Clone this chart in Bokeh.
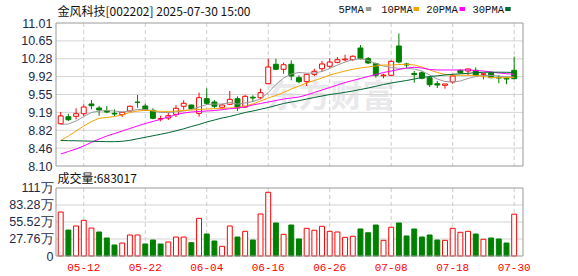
from bokeh.plotting import figure
from bokeh.models import Range1d
from bokeh.core.properties import value
from bokeh.embed import file_html
from bokeh.resources import INLINE

# ---------------- data ----------------
dates = ["05-07", "05-08", "05-09", "05-12", "05-13", "05-14", "05-15", "05-16", "05-19", "05-20",
         "05-21", "05-22", "05-23", "05-26", "05-27", "05-28", "05-29", "05-30",
         "06-03", "06-04", "06-05", "06-06", "06-09", "06-10", "06-11", "06-12", "06-13", "06-16",
         "06-17", "06-18", "06-19", "06-20", "06-23", "06-24", "06-25", "06-26", "06-27", "06-30",
         "07-01", "07-02", "07-03", "07-04", "07-07", "07-08", "07-09", "07-10", "07-11", "07-14",
         "07-15", "07-16", "07-17", "07-18", "07-21", "07-22", "07-23", "07-24", "07-25", "07-28",
         "07-29", "07-30"]
opens = [8.96, 9.103, 9.111, 9.164, 9.362, 9.28, 9.225, 9.172, 9.144, 9.219,
         9.40, 9.321, 9.233, 9.058, 9.077, 9.152, 9.315, 9.341, 9.172, 9.47,
         9.402, 9.295, 9.356, 9.47, 9.30, 9.50, 9.49, 9.775, 10.17, 10.068,
         10.17, 9.897, 9.816, 9.966, 10.08, 10.129, 10.21, 10.26, 10.263, 10.501,
         10.284, 10.182, 9.935, 9.946, 10.542, 10.176, 9.983, 9.999, 9.897, 9.775,
         9.742, 9.81, 10.047, 10.033, 10.047, 9.966, 9.999, 9.905, 9.885, 10.047]
highs = [9.20, 9.164, 9.274, 9.356, 9.443, 9.321, 9.32, 9.254, 9.20, 9.33,
         9.545, 9.368, 9.274, 9.124, 9.193, 9.335, 9.437, 9.35, 9.592, 9.68,
         9.443, 9.368, 9.626, 9.518, 9.545, 9.539, 9.673, 10.284, 10.284, 10.202,
         10.25, 9.945, 9.98, 10.08, 10.237, 10.292, 10.318, 10.365, 10.35, 10.562,
         10.318, 10.202, 9.978, 10.25, 10.797, 10.20, 10.033, 10.027, 9.931, 9.83,
         9.77, 9.978, 10.068, 10.08, 10.108, 9.993, 10.02, 9.946, 9.90, 10.324]
lows = [8.945, 9.016, 9.05, 9.117, 9.254, 9.124, 9.172, 9.117, 9.097, 9.21,
        9.286, 9.219, 9.05, 9.01, 9.036, 9.097, 9.246, 9.25, 9.103, 9.341,
        9.274, 9.26, 9.341, 9.219, 9.28, 9.402, 9.457, 9.763, 10.054, 9.978,
        9.844, 9.783, 9.728, 9.931, 10.013, 10.10, 10.19, 10.23, 10.24, 10.27,
        10.176, 9.897, 9.885, 9.93, 10.19, 10.095, 9.795, 9.864, 9.708, 9.687,
        9.673, 9.775, 9.978, 9.952, 9.931, 9.864, 9.885, 9.783, 9.763, 9.864]
closes = [9.12, 9.042, 9.164, 9.30, 9.327, 9.24, 9.199, 9.158, 9.193, 9.315,
          9.395, 9.233, 9.07, 9.065, 9.124, 9.274, 9.376, 9.266, 9.49, 9.376,
          9.315, 9.341, 9.457, 9.28, 9.518, 9.484, 9.592, 10.115, 10.068, 10.161,
          9.931, 9.816, 9.966, 10.027, 10.176, 10.216, 10.263, 10.275, 10.333, 10.284,
          10.196, 9.946, 9.95, 10.23, 10.216, 10.155, 9.962, 9.885, 9.754, 9.748,
          9.769, 9.931, 9.999, 10.074, 9.946, 9.976, 9.897, 9.89, 9.87, 9.877]
ma5 = [8.945, 8.955, 9.016, 9.107, 9.189, 9.219, 9.229, 9.219, 9.199, 9.219,
       9.25, 9.25, 9.219, 9.189, 9.189, 9.199, 9.219, 9.25, 9.30, 9.35,
       9.36, 9.36, 9.392, 9.36, 9.382, 9.412, 9.463, 9.596, 9.758, 9.891,
       9.972, 10.003, 9.989, 9.993, 10.023, 10.084, 10.155, 10.216, 10.263, 10.283,
       10.247, 10.186, 10.135, 10.104, 10.088, 10.084, 10.074, 10.033, 9.952, 9.87,
       9.82, 9.809, 9.83, 9.88, 9.921, 9.942, 9.942, 9.931, 9.917, 9.907]
ma10 = [8.619, 8.71, 8.812, 8.914, 9.006, 9.071, 9.087, 9.107, 9.138, 9.189,
        9.219, 9.233, 9.225, 9.213, 9.209, 9.219, 9.229, 9.24, 9.25, 9.26,
        9.266, 9.274, 9.28, 9.29, 9.321, 9.362, 9.423, 9.484, 9.535, 9.596,
        9.667, 9.728, 9.789, 9.84, 9.891, 9.952, 9.993, 10.033, 10.068, 10.094,
        10.115, 10.135, 10.155, 10.155, 10.165, 10.169, 10.155, 10.115, 10.054, 10.003,
        9.962, 9.946, 9.946, 9.946, 9.942, 9.921, 9.901, 9.897, 9.897, 9.905]
ma20 = [8.344, 8.395, 8.446, 8.507, 8.582, 8.649, 8.71, 8.761, 8.812, 8.863,
        8.914, 8.965, 9.006, 9.05, 9.097, 9.144, 9.178, 9.199, 9.209, 9.219,
        9.229, 9.246, 9.266, 9.28, 9.30, 9.341, 9.372, 9.402, 9.433, 9.463,
        9.484, 9.504, 9.545, 9.596, 9.647, 9.697, 9.748, 9.799, 9.84, 9.88,
        9.921, 9.962, 10.003, 10.033, 10.064, 10.094, 10.109, 10.094, 10.064, 10.054,
        10.054, 10.054, 10.054, 10.054, 10.043, 10.033, 10.013, 9.993, 9.978, 9.966]
ma30 = [8.619, 8.615, 8.613, 8.609, 8.605, 8.599, 8.595, 8.595, 8.603, 8.623,
        8.654, 8.684, 8.715, 8.745, 8.778, 8.816, 8.857, 8.904, 8.945, 8.995,
        9.036, 9.077, 9.107, 9.148, 9.189, 9.219, 9.254, 9.29, 9.331, 9.372,
        9.402, 9.429, 9.463, 9.494, 9.524, 9.555, 9.575, 9.60, 9.626, 9.657,
        9.687, 9.722, 9.758, 9.789, 9.815, 9.84, 9.87, 9.901, 9.921, 9.935,
        9.952, 9.966, 9.976, 9.986, 9.999, 10.007, 10.009, 10.009, 10.007, 10.003]
volumes = [718000, 424000, 490000, 583000, 457000, 392000, 294000, 180000, 212000, 343000,
           343000, 196000, 261000, 196000, 229000, 310000, 310000, 218000, 615000, 359000,
           245000, 158000, 490000, 310000, 403000, 261000, 686000, 1040000, 539000, 354000,
           506000, 278000, 452000, 420000, 485000, 403000, 392000, 305000, 322000, 441000,
           380000, 506000, 256000, 469000, 539000, 327000, 441000, 310000, 343000, 261000,
           256000, 452000, 387000, 403000, 359000, 273000, 294000, 278000, 212000, 683017]
vol_up = [1, 0, 1, 1, 1, 0, 0, 0, 1, 1, 1, 0, 0, 0, 1, 1, 1, 0, 1, 0,
          0, 1, 1, 0, 1, 0, 1, 1, 0, 1, 0, 0, 1, 1, 1, 1, 1, 1, 1, 0,
          0, 0, 1, 1, 0, 0, 0, 0, 0, 0, 1, 1, 1, 1, 0, 1, 0, 0, 0, 1]

price_ticks = [8.10, 8.464, 8.8275, 9.191, 9.555, 9.919, 10.2825, 10.646, 11.01]
price_tick_labels = ["8.10", "8.46", "8.82", "9.19", "9.55", "9.92", "10.28", "10.65", "11.01"]
vol_ticks = [0, 277600, 555200, 832800, 1110400]
vol_tick_labels = ["0", "27.76万", "55.52万", "83.28万", "111万"]
date_ticks = ["05-12", "05-22", "06-04", "06-16", "06-26", "07-08", "07-18", "07-30"]
title_text = "金风科技[002202] 2025-07-30 15:00"
volume_title = "成交量:683017"
ma_names = ["5PMA", "10PMA", "20PMA", "30PMA"]
watermark = "东方财富"

# ---------------- layout / style ----------------
W, H = 578, 276
X0_PX, DX_PX = 60.2, 7.686          # pixel x of first candle, pixels per trading day
P_TOP_PX, P_BOT_PX = 22.5, 165.5    # price panel
V_TOP_PX, V_BOT_PX = 187.5, 255.5   # volume panel
PANEL_L, PANEL_R = 55.5, 522.5
RED, GREEN = "#ff0000", "#008000"
MA_COLORS = ["#999999", "#f5a300", "#ff00ff", "#006633"]
LABEL_COLOR = "#1e2a48"
BODY_W = 0.64

p_top, p_bot = price_ticks[-1], price_ticks[0]
ps = (P_BOT_PX - P_TOP_PX) / (p_top - p_bot)
vs = (V_BOT_PX - V_TOP_PX) / vol_ticks[-1]

p = figure(width=W, height=H, output_backend="svg", toolbar_location=None,
           x_range=Range1d(-X0_PX / DX_PX, (W - X0_PX) / DX_PX),
           y_range=Range1d(p_bot - (H - P_BOT_PX) / ps, p_top + P_TOP_PX / ps),
           x_axis_location=None, y_axis_location=None, min_border=0,
           outline_line_color=None, background_fill_color="white",
           border_fill_color="white", title=None)
p.extra_x_ranges = {"px": Range1d(0, W)}
p.extra_y_ranges = {"px": Range1d(H, 0),
                    "vol": Range1d(-(H - V_BOT_PX) / vs, V_BOT_PX / vs)}
p.grid.visible = False

idx = list(range(len(dates)))
tick_idx = [dates.index(d) for d in date_ticks]

# watermark
p.text(x=[266], y=[92], text=[watermark], x_range_name="px", y_range_name="px",
       text_font=value("Noto Sans CJK SC"), text_font_style="bold", text_font_size="32px",
       text_color="#e9e9ec", text_baseline="middle", text_align="left")

# horizontal grid lines
inner_p = price_ticks[1:-1]
p.segment(x0=[PANEL_L] * len(inner_p), x1=[PANEL_R] * len(inner_p), y0=inner_p, y1=inner_p,
          x_range_name="px", line_color="#d4d4d4", line_width=1)
inner_v = vol_ticks[1:-1]
p.segment(x0=[PANEL_L] * len(inner_v), x1=[PANEL_R] * len(inner_v), y0=inner_v, y1=inner_v,
          x_range_name="px", y_range_name="vol", line_color="#d4d4d4", line_width=1)
# vertical dashed lines
for top, bot in [(P_TOP_PX, P_BOT_PX), (V_TOP_PX, V_BOT_PX)]:
    p.segment(x0=tick_idx, x1=tick_idx, y0=[top] * len(tick_idx), y1=[bot] * len(tick_idx),
              y_range_name="px", line_color="#cccccc", line_dash="4 3", line_width=1)

# candles
up = [c >= o for o, c in zip(opens, closes)]
ccol = [RED if u else GREEN for u in up]
cfill = ["white" if u else GREEN for u in up]
p.segment(x0=idx, x1=idx, y0=lows, y1=highs, line_color=ccol, line_width=1)
p.vbar(x=idx, width=BODY_W, top=[max(o, c) for o, c in zip(opens, closes)],
       bottom=[min(o, c) for o, c in zip(opens, closes)],
       fill_color=cfill, line_color=ccol, line_width=1)

# moving averages
for ma, col in zip([ma5, ma10, ma20, ma30], MA_COLORS):
    p.line(x=idx, y=ma, line_color=col, line_width=1)

# volume bars
vcol = [RED if u else GREEN for u in vol_up]
vfill = ["white" if u else GREEN for u in vol_up]
p.vbar(x=idx, width=BODY_W, top=volumes, bottom=[0] * len(volumes), y_range_name="vol",
       fill_color=vfill, line_color=vcol, line_width=1)

# panel borders
p.quad(left=[PANEL_L] * 2, right=[PANEL_R] * 2, top=[P_TOP_PX, V_TOP_PX],
       bottom=[P_BOT_PX, V_BOT_PX], x_range_name="px", y_range_name="px",
       fill_color=None, line_color="#999999", line_width=1)

# tick labels
p.text(x=[52] * len(price_ticks), y=price_ticks, text=price_tick_labels, x_range_name="px",
       text_font=value("Liberation Sans"), text_font_size="12.5px", text_color=LABEL_COLOR,
       text_align="right", text_baseline="middle")
p.text(x=[53] * len(vol_ticks), y=vol_ticks, text=vol_tick_labels, x_range_name="px",
       y_range_name="vol", text_font=value("Liberation Sans"), text_font_size="12.5px",
       text_color=LABEL_COLOR, text_align="right", text_baseline="middle")
p.text(x=tick_idx, y=[266.5] * len(tick_idx), text=date_ticks, y_range_name="px",
       text_font=value("Liberation Mono"), text_font_size="11px", text_color=RED,
       text_align="center", text_baseline="middle")

# titles
p.text(x=[57], y=[9.5], text=[title_text], x_range_name="px", y_range_name="px",
       text_font=value("Noto Sans CJK SC"), text_font_size="12px", text_color="#111111",
       text_align="left", text_baseline="middle")
p.text(x=[57], y=[176.5], text=[volume_title], x_range_name="px", y_range_name="px",
       text_font=value("Noto Sans CJK SC"), text_font_size="12px", text_color="#111111",
       text_align="left", text_baseline="middle")

# MA legend
leg_x = [338, 380.7, 425.7, 472]
sw_x = [365.3, 413.0, 459.0, 504.7]
p.text(x=leg_x, y=[9.5] * 4, text=ma_names, x_range_name="px", y_range_name="px",
       text_font=value("Liberation Mono"), text_font_size="10.5px", text_color="#111111",
       text_align="left", text_baseline="middle")
p.quad(left=sw_x, right=[s + 5.5 for s in sw_x], top=[6.5] * 4, bottom=[10.5] * 4,
       x_range_name="px", y_range_name="px", fill_color=MA_COLORS, line_color=None)

open("out.html", "w").write(file_html(p, INLINE))
